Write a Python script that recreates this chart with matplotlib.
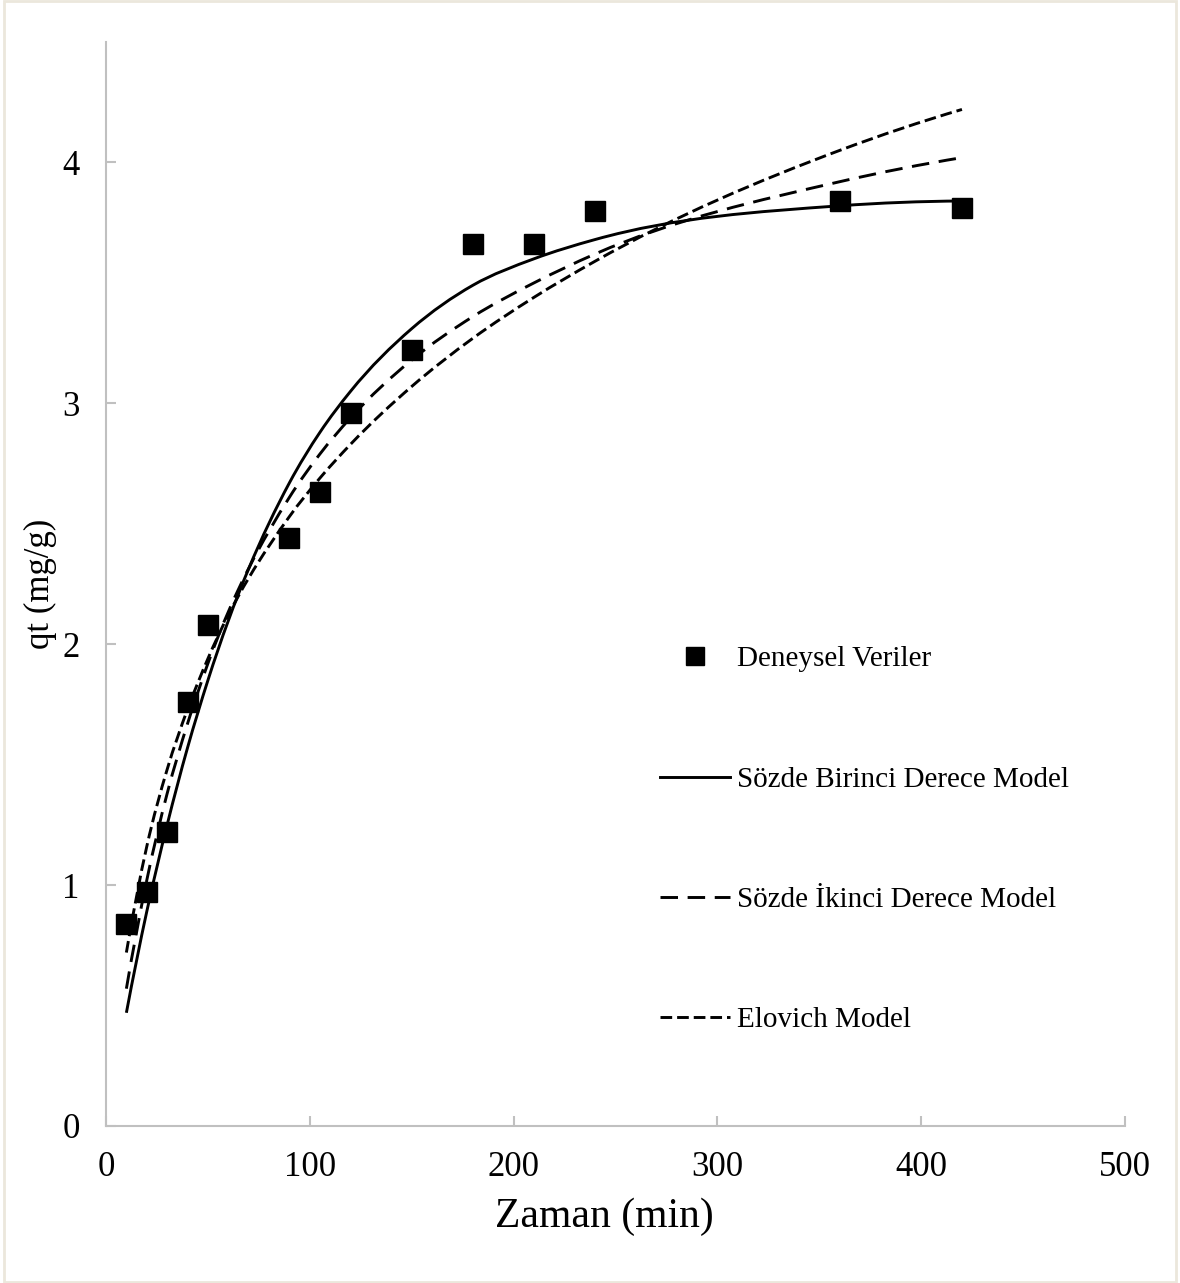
import numpy as np
import matplotlib.pyplot as plt
from matplotlib.path import Path
from matplotlib.patches import PathPatch, Rectangle
from matplotlib.lines import Line2D

plt.rcParams['font.family'] = ['Liberation Serif', 'DejaVu Serif']

# time points (min)
t = [10, 20, 30, 40, 50, 90, 105, 120, 150, 180, 210, 240, 360, 420]

# experimental qt (mg/g)
qt_exp = [0.84, 0.97, 1.22, 1.76, 2.08, 2.44, 2.63, 2.96, 3.22, 3.66, 3.66, 3.80, 3.84, 3.81]

# model curves read at the same times
pfo = [0.47, 0.89, 1.25, 1.57, 1.85, 2.67, 2.88, 3.05, 3.31, 3.49, 3.60, 3.68, 3.82, 3.84]
pso = [0.57, 1.02, 1.38, 1.67, 1.92, 2.61, 2.79, 2.94, 3.18, 3.36, 3.50, 3.62, 3.92, 4.02]
elovich = [0.72, 1.16, 1.48, 1.73, 1.94, 2.53, 2.69, 2.83, 3.07, 3.27, 3.44, 3.59, 4.05, 4.22]

labels = ['Deneysel Veriler', 'Sözde Birinci Derece Model',
          'Sözde İkinci Derece Model', 'Elovich Model']

LW = 2.1
long_dash = (0, (6.0, 3.3))
short_dash = (0, (4.0, 1.7))


def smooth_path(x, y):
    # smoothed line: cubic Bezier segments through the points,
    # tangents from the neighbouring points (uneven spacing aware)
    x = np.asarray(x, float)
    y = np.asarray(y, float)
    h = np.diff(x)
    d = np.diff(y) / h
    m = np.empty_like(y)
    m[1:-1] = (h[:-1] * d[1:] + h[1:] * d[:-1]) / (h[:-1] + h[1:])
    m[0] = ((2 * h[0] + h[1]) * d[0] - h[0] * d[1]) / (h[0] + h[1])
    m[-1] = ((2 * h[-1] + h[-2]) * d[-1] - h[-1] * d[-2]) / (h[-1] + h[-2])
    verts = [(x[0], y[0])]
    codes = [Path.MOVETO]
    for i in range(len(x) - 1):
        s = h[i] / 3
        verts += [(x[i] + s, y[i] + m[i] * s),
                  (x[i + 1] - s, y[i + 1] - m[i + 1] * s),
                  (x[i + 1], y[i + 1])]
        codes += [Path.CURVE4] * 3
    return Path(verts, codes)


fig = plt.figure(figsize=(11.8, 12.83), dpi=100)
ax = fig.add_axes([106 / 1180, 1 - 1126 / 1283, 1019 / 1180, 1084 / 1283])

for vals, ls in [(pfo, '-'), (pso, long_dash), (elovich, short_dash)]:
    ax.add_patch(PathPatch(smooth_path(t, vals), fill=False, color='black',
                           lw=LW, linestyle=ls))

ax.plot(t, qt_exp, 's', color='black', ms=14, zorder=5)

ax.set_xlim(0, 500)
ax.set_ylim(0, 4.5)
ax.set_xticks([0, 100, 200, 300, 400, 500])
ax.set_yticks([0, 1, 2, 3, 4])

for side in ['top', 'right']:
    ax.spines[side].set_visible(False)
for side in ['left', 'bottom']:
    ax.spines[side].set_color('#c0c0c0')
    ax.spines[side].set_linewidth(1.5)

ax.tick_params(axis='both', direction='in', length=7, width=1.5,
               color='#c0c0c0', labelsize=25)
ax.tick_params(axis='x', pad=18)
ax.tick_params(axis='y', pad=19)

ax.set_xlabel('Zaman (min)', fontsize=30)
ax.xaxis.set_label_coords(0.4895, -0.066)
ax.set_ylabel('qt (mg/g)', fontsize=25, labelpad=4)

handles = [
    Line2D([], [], ls='none', marker='s', color='black', ms=13),
    Line2D([], [], ls='-', color='black', lw=LW),
    Line2D([], [], ls=long_dash, color='black', lw=LW),
    Line2D([], [], ls=short_dash, color='black', lw=LW),
]
ax.legend(handles, labels, loc='upper left',
          bbox_to_anchor=(660 / 1180, 1 - 646 / 1283),
          bbox_transform=fig.transFigure, frameon=False, fontsize=21,
          handlelength=2.4, handletextpad=0.25, labelspacing=3.22,
          borderpad=0, borderaxespad=0)

# light chart border
fig.add_artist(Rectangle((0.003, 0.001), 0.994, 0.998, transform=fig.transFigure,
                         fill=False, edgecolor='#ebe7dc', lw=2))

fig.savefig('out.png', dpi=100)
